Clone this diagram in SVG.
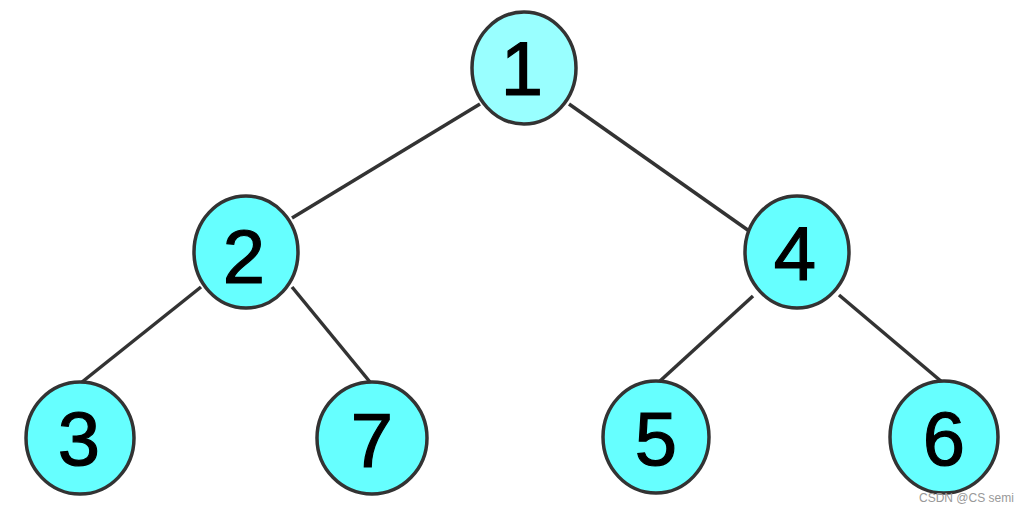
<svg xmlns="http://www.w3.org/2000/svg" width="1030" height="512" viewBox="0 0 1030 512">
<style>
.node ellipse{fill:#66ffff;stroke:#333;stroke-width:3.5}
#n1 ellipse{fill:#99ffff}
.node text{font-family:"Liberation Sans",Arial,sans-serif;font-size:76px;fill:#000;stroke:#000;stroke-width:1.2;text-anchor:middle}
.edges line{stroke:#333;stroke-width:3.5}
.wm{font-family:"Liberation Sans",Arial,sans-serif;font-size:12px;fill:#999}
</style>
<rect width="1030" height="512" fill="#fff"/>
<g class="edges">
<line x1="480" y1="104" x2="292" y2="218"/>
<line x1="569" y1="104" x2="752" y2="233"/>
<line x1="201" y1="287" x2="82" y2="382"/>
<line x1="292" y1="287" x2="370" y2="382"/>
<line x1="753" y1="296" x2="660" y2="381"/>
<line x1="839" y1="295" x2="942" y2="382"/>
</g>
<g id="n1" class="node"><ellipse cx="524" cy="68" rx="52" ry="56"/><text x="522" y="95">1</text></g>
<g id="n2" class="node"><ellipse cx="246" cy="252" rx="52" ry="56"/><text x="244" y="283">2</text></g>
<g id="n4" class="node"><ellipse cx="797" cy="252" rx="52" ry="56"/><text x="795" y="280">4</text></g>
<g id="n3" class="node"><ellipse cx="80" cy="438" rx="54" ry="56"/><text x="79" y="465">3</text></g>
<g id="n7" class="node"><ellipse cx="372" cy="438" rx="55" ry="56"/><text x="372" y="467">7</text></g>
<g id="n5" class="node"><ellipse cx="656" cy="437" rx="53" ry="56"/><text x="656" y="465">5</text></g>
<g id="n6" class="node"><ellipse cx="944" cy="437" rx="54" ry="56"/><text x="944" y="465">6</text></g>
<text class="wm" x="919" y="502">CSDN @CS semi</text>
</svg>
